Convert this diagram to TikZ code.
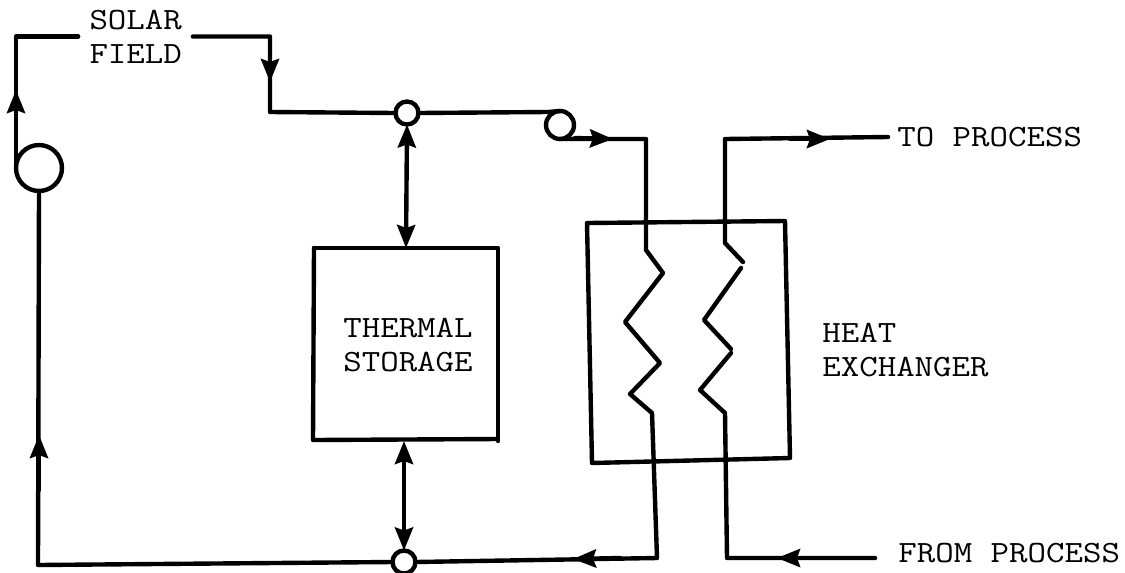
\documentclass[tikz,border=0pt]{standalone}
\usepackage{fontspec}
\newfontfamily\typed[FakeStretch=1.16]{Latin Modern Mono}
\usetikzlibrary{arrows.meta}
\begin{document}
\begin{tikzpicture}[x=0.02cm,y=-0.02cm]
        \tikzstyle{pipe} = [line width=2.5pt, line cap=round, line join=round]
        \tikzstyle{arrow} = [pipe,->,>={Stealth[length=4.6mm,width=3.6mm,inset=0.6mm]}]
        \tikzstyle{both} = [pipe,<->,>={Stealth[length=4.6mm,width=3.6mm,inset=0.6mm]}]
        \tikzstyle{label} = [font=\typed\fontsize{17.6}{19.3}\selectfont, align=left, inner sep=0pt]
        \tikzstyle{proc} = [circle, draw=black, line width=2.5pt, fill=white, inner sep=0pt, outer sep=0pt]
        \useasboundingbox (0,0) rectangle (1125,572);
        % boxes
        \draw[pipe] (314,248) -- (498,248) -- (498,441);
        \draw[pipe] (314,248) -- (313,440) -- (498,439);
        \draw[pipe] (587,223) -- (785,221) -- (790,458) -- (592,463) -- cycle;
        % nodes
        \node (solar) [label, inner xsep=0.22cm, text width=1.84cm] at (135.5,36.5) {SOLAR\\FIELD};
        \node (thermal) [label, anchor=west] at (343,345) {THERMAL\\STORAGE};
        \node (heat) [label, anchor=west] at (822,350) {HEAT\\EXCHANGER};
        \node (toproc) [label, anchor=west, inner xsep=0.18cm] at (888,137) {TO PROCESS};
        \node (fromproc) [label, anchor=west] at (898,553) {FROM PROCESS};
        \node (pumpa) [proc, minimum size=0.92cm] at (39,168) {};
        \node (pumpb) [proc, minimum size=0.56cm] at (560,125) {};
        \node (tee) [proc, minimum size=0.46cm] at (407,113) {};
        \node (mix) [proc, minimum size=0.46cm] at (404,562) {};
        \coordinate (hota) at (646,139);
        \coordinate (hotb) at (657,558);
        \coordinate (cola) at (725,139);
        \coordinate (colb) at (727,558);
        \coordinate (fromend) at (875,558);
        % loop
        \draw[pipe] (pumpa.west) |- (solar.west);
        \draw[pipe] (solar.east) -| (270,112) -- (tee.west);
        \draw[pipe] (tee.east) -- (548,112) -- (pumpb.north);
        \draw[pipe] (pumpb.south) -- (hota) -- (646,250) -- (663,273) -- (625,322) -- (660,363) -- (630,394) -- (652,413) -- (hotb) -- (mix.east);
        \draw[pipe] (mix.west) -- (38,565) -- (pumpa.south);
        \draw[pipe] (toproc.west) -- (cola) -- (725,243) -- (743,262);
        \draw[pipe] (741,268) -- (704,320) -- (731,349);
        \draw[pipe] (731,353) -- (700,390) -- (725,413) -- (colb) -- (fromend);
        % flow arrows
        \draw[arrow] (16,130) -- (16,90);
        \draw[arrow] (270,50) -- (270,82);
        \draw[arrow] (575,138) -- (613,139);
        \draw[arrow] (790,139) -- (830,139);
        \draw[arrow] (39,490) -- (39,435);
        \draw[arrow] (620,558) -- (573,559);
        \draw[arrow] (825,558) -- (777,558);
        \draw[both] (tee.south) -- (406,248);
        \draw[both] (404,441) -- (mix.north);
\end{tikzpicture}
\end{document}
